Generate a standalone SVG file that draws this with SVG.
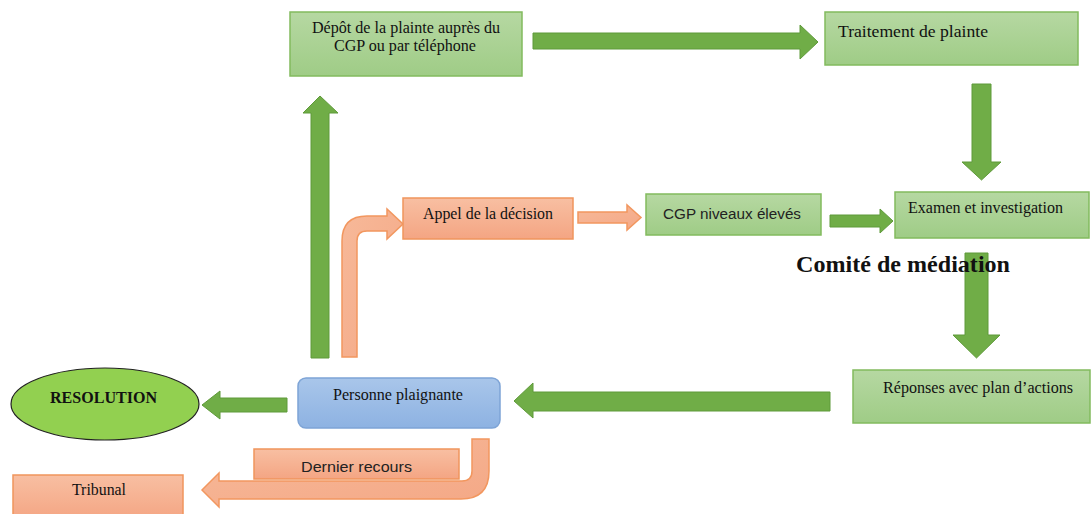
<svg xmlns="http://www.w3.org/2000/svg" width="1092" height="514" viewBox="0 0 1092 514">
<style>
.gbox{fill:url(#gg);stroke:#82bb5e;stroke-width:1.5}
.obox{fill:url(#og);stroke:#f0955c;stroke-width:1.5}
.garr{fill:#70ad47;stroke:#5f9a3a;stroke-width:1}
.oarr{fill:url(#oa);stroke:#f2975f;stroke-width:1.5}
.t{font-family:"Liberation Serif","Times New Roman",serif;font-size:16px;fill:#111}
.s{font-family:"Liberation Sans",Arial,sans-serif;font-size:15.5px;fill:#222}
.b{font-family:"Liberation Serif","Times New Roman",serif;font-weight:bold;fill:#111}
</style>
<defs>
<linearGradient id="gg" x1="0" y1="0" x2="0" y2="1"><stop offset="0" stop-color="#b6d8a2"/><stop offset="1" stop-color="#9fcc86"/></linearGradient>
<linearGradient id="og" x1="0" y1="0" x2="0" y2="1"><stop offset="0" stop-color="#f8bfa2"/><stop offset="1" stop-color="#f4a583"/></linearGradient>
<linearGradient id="oa" x1="0" y1="0" x2="1" y2="1"><stop offset="0" stop-color="#f7b999"/><stop offset="1" stop-color="#f4a886"/></linearGradient>
<linearGradient id="bg" x1="0" y1="0" x2="0" y2="1"><stop offset="0" stop-color="#a9c6ea"/><stop offset="1" stop-color="#8db2e2"/></linearGradient>
</defs>
<g id="connectors">
<path class="garr" d="M311,358 L311,113 L303,113 L320,96 L338,113 L329,113 L329,358 Z"/>
<path class="garr" d="M533,33 L800,33 L800,25 L818,42 L800,59 L800,49 L533,49 Z"/>
<path class="garr" d="M972,84 L991,84 L991,162 L1001,162 L981.5,180 L962,162 L972,162 Z"/>
<path class="garr" d="M830,215 L880,215 L880,209 L893,221 L880,233 L880,227 L830,227 Z"/>
<path class="garr" d="M965,253 L988,253 L988,335 L1000,335 L976.5,358 L953,335 L965,335 Z"/>
<path class="garr" d="M830,392 L533,392 L533,383 L514,401 L533,418 L533,411 L830,411 Z"/>
<path class="garr" d="M287,398 L220,398 L220,391 L202,405 L220,419 L220,412 L287,412 Z"/>
<path class="oarr" d="M578,212 L627,212 L627,205 L641,217.5 L627,230 L627,223 L578,223 Z"/>
<path class="oarr" d="M342,357 L342,241 Q342,216 367,216 L387,216 L387,209 L403,224 L387,239 L387,231 L367,231 Q357,231 357,241 L357,357 Z"/>
<path class="oarr" d="M472,439 L489,439 L489,471 Q489,499 461,499 L219,499 L219,507 L202,490 L219,473 L219,481 L462,481 Q472,481 472,471 Z"/>
</g>
<g id="depot"><rect class="gbox" x="290" y="12" width="232" height="64"/><text class="t" x="312" y="33" textLength="188" lengthAdjust="spacingAndGlyphs">Dépôt de la plainte auprès du</text><text class="t" x="334" y="51" textLength="142" lengthAdjust="spacingAndGlyphs">CGP ou par téléphone</text></g>
<g id="traitement"><rect class="gbox" x="825" y="12" width="253" height="53"/><text class="t" x="838" y="37" style="font-size:17.5px" textLength="150" lengthAdjust="spacingAndGlyphs">Traitement de plainte</text></g>
<g id="examen"><rect class="gbox" x="895" y="192" width="194" height="46"/><text class="t" x="908" y="213" textLength="155" lengthAdjust="spacingAndGlyphs">Examen et investigation</text></g>
<g id="cgp"><rect class="gbox" x="646" y="194" width="175" height="41"/><text class="s" x="663" y="219" textLength="138" lengthAdjust="spacingAndGlyphs">CGP niveaux élevés</text></g>
<g id="appel"><rect class="obox" x="403" y="198" width="170" height="41"/><text class="t" x="423" y="219" textLength="130" lengthAdjust="spacingAndGlyphs">Appel de la décision</text></g>
<g id="comite"><text class="b" x="796" y="272" style="font-size:23px" textLength="214" lengthAdjust="spacingAndGlyphs">Comité de médiation</text></g>
<g id="reponses"><rect class="gbox" x="853" y="370" width="237" height="53"/><text class="t" x="883" y="393" textLength="190" lengthAdjust="spacingAndGlyphs">Réponses avec plan d’actions</text></g>
<g id="personne"><rect x="298" y="378" width="202" height="50" rx="8" fill="url(#bg)" stroke="#7ea4d6" stroke-width="1.5"/><text class="t" x="333" y="400" textLength="130" lengthAdjust="spacingAndGlyphs">Personne plaignante</text></g>
<g id="resolution"><ellipse cx="105" cy="404" rx="94" ry="36" fill="#92d050" stroke="#222" stroke-width="1.2"/><text class="b" x="50" y="403" style="font-size:16px" textLength="107" lengthAdjust="spacingAndGlyphs">RESOLUTION</text></g>
<g id="dernier"><rect class="obox" x="254" y="449" width="205" height="30"/><text class="s" x="301" y="472" textLength="111" lengthAdjust="spacingAndGlyphs">Dernier recours</text></g>
<g id="tribunal"><rect class="obox" x="13" y="475" width="170" height="45"/><text class="t" x="72" y="495" textLength="54" lengthAdjust="spacingAndGlyphs">Tribunal</text></g>
</svg>
